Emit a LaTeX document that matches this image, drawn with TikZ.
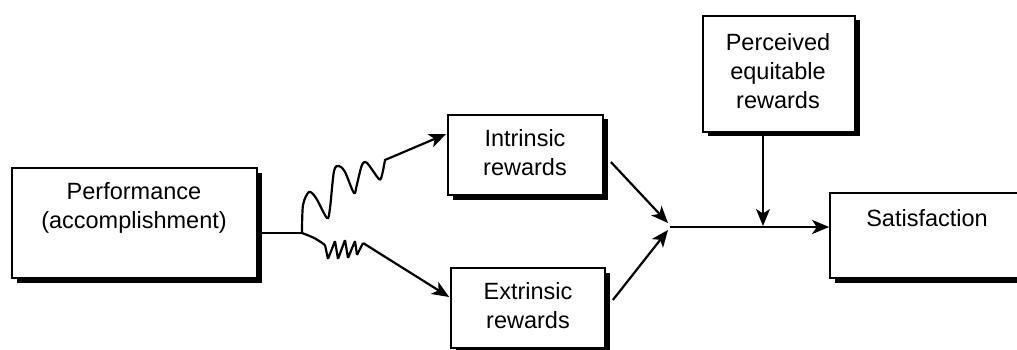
\documentclass[tikz,border=0pt]{standalone}
\usepackage{fontspec}
\setmainfont{Liberation Sans}
\usetikzlibrary{arrows.meta,shadows,calc}
\begin{document}
\begin{tikzpicture}[x=1pt,y=-1pt,
  box/.style={draw, line width=1.7pt, fill=white, inner sep=0pt,
    drop shadow={shadow xshift=4.5pt, shadow yshift=-4.5pt, fill=black, opacity=1}},
  txt/.style={align=center, inner sep=0pt, font=\fontsize{23.5pt}{29pt}\selectfont},
  conn/.style={line width=2.2pt},
  thinconn/.style={line width=1.6pt},
  arr/.style={-{Stealth[length=17pt,width=14pt,inset=4.5pt]}}]
\useasboundingbox (0,0) rectangle (1017,350);
% boxes
\node[box, minimum width=245pt, minimum height=110pt] (perf) at (134.5,223) {};
\node[box, minimum width=155pt, minimum height=80pt] (intr) at (525.5,155) {};
\node[box, minimum width=154pt, minimum height=80pt] (extr) at (528,308) {};
\node[box, minimum width=152pt, minimum height=116pt] (perc) at (779,74) {};
\node[box, minimum width=200pt, minimum height=85pt] (sat) at (930,235.5) {};
% texts
\node[txt] (perfT) at (134,208) {Performance\\(accomplishment)};
\node[txt] (intrT) at (525,153) {Intrinsic\\rewards};
\node[txt] (extrT) at (528,306) {Extrinsic\\rewards};
\node[txt] (percT) at (778,71) {Perceived\\equitable\\rewards};
\node[txt] (satT) at (927,218) {Satisfaction};
% connectors
\coordinate (jl) at (302,233);
\coordinate (J) at (670,227);
\coordinate (m) at (763,226);
\draw[conn] (perf.east |- jl) -- (jl);
\draw[conn, arr] plot[smooth, tension=0.5] coordinates {(jl) (303,205) (309,192) (316,198) (327,218) (330,208) (334,171) (339,166) (345,172) (354,193) (357,184) (362,165) (367,163) (379,179) (382,175) (385,160)} -- ($(intr.west)+(-1,-21)$);
\draw[conn, arr, rounded corners=1pt] (jl) .. controls (315,238) .. (325,245) -- (328,259) -- (335,241) -- (338,259) -- (345,240) -- (348,258) -- (355,241) -- (357,255) -- (363,243) -- ($(extr.west)+(-1,-11)$);
\draw[conn, arr] ($(intr.east)+(7,7)$) -- ($(J)+(-2,-4)$);
\draw[conn, arr] ($(extr.east)+(7,-8)$) -- ($(J)+(-2,3)$);
\draw[conn, arr] (J) -- (sat.west |- J);
\draw[thinconn, arr] (perc.south -| m) -- (m);
\end{tikzpicture}
\end{document}
